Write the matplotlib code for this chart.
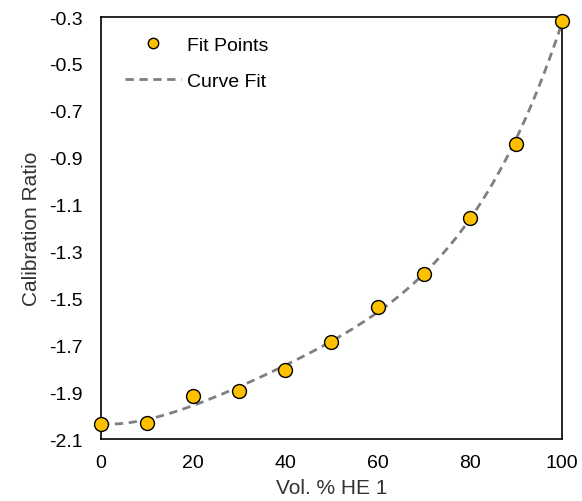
import numpy as np
import matplotlib.pyplot as plt

plt.rcParams['font.family'] = ['Liberation Sans', 'DejaVu Sans']

# fit points
vol = [0, 10, 20, 30, 40, 50, 60, 70, 80, 90, 100]
ratio = [-2.036, -2.032, -1.917, -1.895, -1.806, -1.686, -1.537, -1.396, -1.157, -0.842, -0.317]

x_ticks = [0, 20, 40, 60, 80, 100]
y_ticks = [-2.1, -1.9, -1.7, -1.5, -1.3, -1.1, -0.9, -0.7, -0.5, -0.3]

coef = np.polyfit(vol, ratio, 4)
xs = np.linspace(0, 100, 200)
ys = np.polyval(coef, xs)

fig = plt.figure(figsize=(5.82, 5.02), dpi=100)
ax = fig.add_axes([0.1735, 0.1235, 0.792, 0.8405])

ax.plot(vol, ratio, 'o', color='#FFC000', markeredgecolor='black', markeredgewidth=1.0,
        markersize=10, label='Fit Points', zorder=3, linestyle='none', clip_on=False)
ax.plot(xs, ys, '--', color='#7F7F7F', linewidth=2.0, dashes=(3, 2), label='Curve Fit', zorder=2)

ax.set_xlim(0, 100)
ax.set_ylim(-2.1, -0.3)
ax.set_xticks(x_ticks)
ax.set_yticks(y_ticks)
ax.set_yticklabels(['%.1f' % v for v in y_ticks])
ax.tick_params(length=0, labelsize=14)
ax.tick_params(axis='x', pad=11)
ax.tick_params(axis='y', pad=13)
for s in ax.spines.values():
    s.set_linewidth(1.2)

ax.set_xlabel('Vol. % HE 1', fontsize=15, color='#333333', labelpad=5)
ax.set_ylabel('Calibration Ratio', fontsize=15, color='#333333', labelpad=6)

ax.legend(loc='upper left', frameon=False, fontsize=14, bbox_to_anchor=(0.052, 0.955),
          borderpad=0, borderaxespad=0, handlelength=2.9, handletextpad=0.3,
          labelspacing=0.95, markerscale=0.75)

fig.savefig('out.png', dpi=100)
